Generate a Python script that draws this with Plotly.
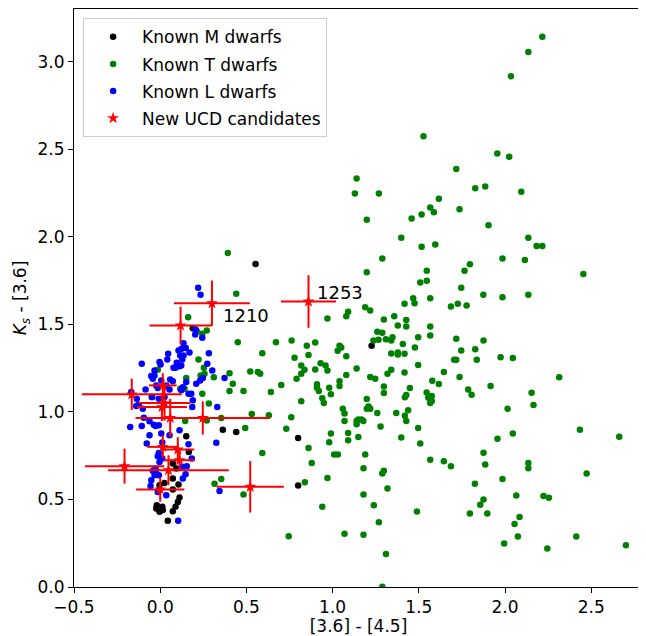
import plotly.graph_objects as go

# Known M dwarfs
m_x = [0.553, 1.226, 0.189, -0.049, 0.363, 0.441, 0.151, 0.80, 0.80, 0.166, 0.073, 0.093, 0.073,
       0.106, 0.025, -0.004, 0.073, 0.112, 0.102, 0.089, 0.073, -0.020, -0.023, 0.012, -0.004,
       0.015, 0.044]
m_y = [1.844, 1.377, 1.478, 1.085, 0.898, 0.885, 0.860, 0.851, 0.579, 0.771, 0.705, 0.676, 0.619,
       0.585, 0.594, 0.581, 0.557, 0.511, 0.486, 0.458, 0.433, 0.467, 0.448, 0.458, 0.429,
       0.439, 0.378]

# Known T dwarfs
t_x = [2.216, 2.135, 2.034, 1.527, 1.955, 2.024, 1.139, 1.717, 1.129, 1.268, 1.827, 1.885, 2.094,
       1.616, 1.198, 1.566, 1.587, 1.516, 1.458, 1.736, 1.904, 1.398, 2.135, 2.183, 2.216, 1.516,
       1.595, 1.288, 1.985, 2.115, 2.454, 1.198, 1.546, 1.796, 1.765, 1.508, 1.546, 1.746, 1.874,
       1.985, 2.135, 1.467, 1.475, 1.566, 1.417, 1.686, 1.726, 1.777, 1.189, 1.218, 1.090, 1.079,
       0.970, 1.357, 1.297, 1.427,
       1.427, 1.378, 1.566, 1.259, 1.288, 1.237, 1.266, 1.309, 1.340, 1.347, 1.496, 1.566, 1.717,
       1.875, 0.850, 0.899, 0.860, 1.040, 1.050, 1.029, 1.079, 1.407, 1.477, 1.340, 1.378, 1.378,
       1.417, 1.746, 1.827, 1.705, 1.717, 1.836, 1.974, 2.045, 0.818, 0.837, 0.818, 0.899, 0.930,
       0.959, 0.970, 1.079, 1.139, 1.218, 1.247, 1.318, 1.340, 1.417, 1.496, 1.645, 1.736, 1.578,
       1.616, 0.909, 0.909, 0.920, 0.980, 0.990, 1.040, 1.040, 1.297, 1.297, 1.448, 1.419, 1.427,
       1.545, 1.555, 1.575, 1.575, 1.566, 1.786, 1.806, 1.916, 2.314, 2.154, 2.165, 2.015, 0.818,
       0.940, 0.949, 1.059, 1.069, 1.069, 1.198, 1.198, 1.218, 1.208, 1.259, 1.139, 1.149, 1.168,
       1.178, 1.139, 1.278, 1.369, 1.419, 1.427, 1.438, 1.149, 0.990, 0.980, 1.090, 1.090, 1.398,
       1.496, 1.508, 1.956, 2.045, 2.434, 2.662, 0.860, 1.009, 1.030, 0.879, 0.839, 0.970, 1.189,
       1.179, 1.288, 1.297, 1.318, 1.179, 1.239, 0.940, 1.268, 1.069, 1.179, 1.309, 1.288, 1.489,
       1.566, 1.645, 1.686, 1.875, 1.885, 1.825, 1.796, 1.856, 1.875, 1.897, 1.985, 2.065, 2.135,
       2.135, 2.223, 2.254, 2.055, 2.084, 2.074, 1.995, 2.245, 2.413, 2.473, 2.701,
       0.392, 0.441, 0.450, 0.671, 0.762, 0.592, 0.779, 0.522, 0.566, 0.580, 0.402, 0.791,
       0.421, 0.402, 0.483, 0.642, 0.702, 0.531, 0.630, 0.760, 0.354, 0.493, 0.731, 0.592, 0.354,
       0.315, 0.483, 0.745,
       0.162, 0.212, 0.244, 0.270, 0.222, 0.253, -0.014, 0.151, 0.141, 0.116, 0.257, 0.234, 0.311,
       0.244, 0.282, 0.145, 0.270]
t_y = [3.141, 3.054, 2.916, 2.574, 2.475, 2.456, 2.332, 2.386, 2.247, 2.247, 2.277, 2.287, 2.256,
       2.217, 2.097, 2.167, 2.139, 2.127, 2.104, 2.156, 2.066, 1.994, 1.994, 1.947, 1.947, 1.943,
       1.956, 1.876, 1.876, 1.867, 1.787, 1.797, 1.806, 1.842, 1.806, 1.738, 1.748, 1.708, 1.668,
       1.654, 1.668, 1.648, 1.620, 1.648, 1.617, 1.601, 1.617, 1.607, 1.597, 1.578, 1.571, 1.546,
       1.533, 1.546, 1.527, 1.525,
       1.487, 1.493, 1.487, 1.457, 1.451, 1.407, 1.411, 1.415, 1.407, 1.426, 1.426, 1.436, 1.417,
       1.407, 1.377, 1.396, 1.324, 1.377, 1.368, 1.349, 1.318, 1.387, 1.368, 1.333, 1.339, 1.328,
       1.332, 1.350, 1.358, 1.297, 1.297, 1.297, 1.312, 1.307, 1.265, 1.240, 1.218, 1.242, 1.278,
       1.265, 1.236, 1.210, 1.248, 1.199, 1.189, 1.218, 1.240, 1.225, 1.267, 1.227, 1.199, 1.178,
       1.159, 1.157, 1.138, 1.119, 1.138, 1.100, 1.175, 1.147, 1.145, 1.107, 1.136, 1.084, 1.096,
       1.111, 1.081, 1.090, 1.062, 1.050, 1.128, 1.098, 1.147, 1.198, 1.109, 1.039, 1.017, 1.060,
       1.078, 1.050, 1.018, 0.990, 0.948, 1.073, 1.018, 1.018, 1.031, 0.993, 0.948, 0.957, 0.957,
       0.948, 0.929, 0.917, 0.993, 0.978, 0.948, 1.009, 0.857, 0.877, 0.826, 0.879, 0.838, 0.853,
       0.908, 0.819, 0.846, 0.877, 0.898, 0.858, 0.794, 0.756, 0.756, 0.708, 0.598, 0.623, 0.756,
       0.678, 0.648, 0.663, 0.562, 0.528, 0.467, 0.458, 0.370, 0.304, 0.298, 0.188, 0.002, 0.431,
       0.727, 0.718, 0.689, 0.767, 0.699, 0.589, 0.420, 0.469, 0.500, 0.420, 0.617, 0.522, 0.708,
       0.678, 0.519, 0.509, 0.359, 0.399, 0.289, 0.249, 0.220, 0.289, 0.648, 0.239,
       1.907, 1.674, 1.398, 1.398, 1.407, 1.335, 1.309, 1.231, 1.227, 1.218, 1.221, 1.189,
       1.161, 1.119, 1.119, 1.113, 1.153, 0.988, 0.980, 0.969, 0.965, 0.908, 0.904, 0.765, 0.617,
       0.589, 0.528, 0.290,
       1.540, 1.460, 1.446, 1.464, 1.299, 1.252, 1.240, 1.193, 1.132, 1.132, 1.218, 1.208, 1.198,
       1.103, 1.047, 0.948, 0.951]

# Known L dwarfs
l_x = [0.220, 0.234, 0.205, 0.203, 0.244, 0.135, 0.148, 0.124, 0.106, 0.170, 0.135, 0.116, 0.128,
       0.046, 0.041, 0.096, 0.077, 0.122, 0.112, 0.089, -0.004, 0.002, -0.107, 0.282, 0.273, 0.302,
       -0.033, -0.043, -0.052, 0.058, 0.073, 0.006, 0.035, -0.023, -0.085, -0.014, 0.054, -0.168,
       -0.136, -0.124, -0.139, -0.101, -0.046, -0.008, 0.025, 0.122, 0.151, 0.131, 0.180, 0.164,
       0.189, 0.209, 0.232, 0.247, 0.373, 0.186, 0.331, -0.095, -0.062, -0.037, -0.027, -0.008,
       -0.107, -0.174, -0.062, 0.006, 0.054, 0.112, -0.078, 0.012, -0.033,
       0.164, -0.008, -0.014, 0.012, -0.004, 0.183, 0.154, 0.128, -0.027, -0.043, -0.023, -0.008,
       -0.033, 0.147, 0.131, -0.052, -0.056, -0.014, 0.035, 0.344, 0.325, 0.104]
l_y = [1.708, 1.668, 1.470, 1.442, 1.423, 1.392, 1.364, 1.360, 1.350, 1.339, 1.322, 1.322, 1.299,
       1.332, 1.299, 1.280, 1.252, 1.265, 1.261, 1.252, 1.284, 1.271, 1.275, 1.335, 1.275, 1.236,
       1.208, 1.189, 1.204, 1.185, 1.174, 1.179, 1.151, 1.151, 1.128, 1.136, 1.128, 1.113,
       1.075, 1.041, 1.033, 1.018, 1.085, 1.075, 1.085, 1.123, 1.170, 1.141, 1.103, 1.103,
       1.066, 1.160, 1.179, 1.193, 1.193, 1.028, 1.028, 0.967, 0.946, 0.927, 0.919, 0.923,
       0.919, 0.913, 0.866, 0.876, 0.866, 0.895, 0.819, 0.825, 1.236,
       0.815, 0.765, 0.746, 0.733, 0.714, 0.733, 0.689, 0.686, 0.676, 0.663, 0.648, 0.638,
       0.638, 0.644, 0.619, 0.610, 0.577, 0.543, 0.524, 0.548, 0.824, 0.378]

# New UCD candidates
c_x = [0.30, 0.86, 0.118, -0.165, 0.015, 0.025, 0.010, 0.058, 0.247, 0.015, 0.102, 0.112, -0.207,
       0.048, 0.000, 0.522]
c_y = [1.62, 1.63, 1.493, 1.100, 1.151, 1.050, 1.027, 0.965, 0.965, 0.800, 0.785, 0.724, 0.690,
       0.667, 0.557, 0.572]
c_xerr = [0.22, 0.16, 0.18, 0.29, 0.08, 0.15, 0.145, 0.05, 0.39, 0.09, 0.095, 0.09, 0.23, 0.35,
          0.14, 0.195]
c_yerr = [0.13, 0.15, 0.107, 0.09, 0.07, 0.10, 0.08, 0.11, 0.095, 0.065, 0.07, 0.057, 0.10, 0.085,
          0.07, 0.147]

labels = ["1210", "1253"]
label_x = [0.35, 0.895]
label_y = [1.55, 1.68]

FONT = "DejaVu Sans"
FS = 17
fig = go.Figure()
fig.add_trace(go.Scatter(x=m_x, y=m_y, mode="markers", name="Known M dwarfs", legendgroup="m",
                         marker=dict(color="black", size=6.5, line=dict(width=0))))
fig.add_trace(go.Scatter(x=t_x, y=t_y, mode="markers", name="Known T dwarfs", legendgroup="t",
                         marker=dict(color="#008000", size=6.5, line=dict(width=0))))
fig.add_trace(go.Scatter(x=l_x, y=l_y, mode="markers", name="Known L dwarfs", legendgroup="l",
                         marker=dict(color="#0000ff", size=6.5, line=dict(width=0))))
fig.add_trace(go.Scatter(x=c_x, y=c_y, mode="markers", name="New UCD candidates", legendgroup="c",
                         marker=dict(color="red", size=9, symbol="star", line=dict(width=0)),
                         error_x=dict(type="data", array=c_xerr, color="red", thickness=2, width=0),
                         error_y=dict(type="data", array=c_yerr, color="red", thickness=2, width=0)))

for t, lx, ly in zip(labels, label_x, label_y):
    fig.add_annotation(x=lx, y=ly, text=t, showarrow=False, xanchor="left", yanchor="middle",
                       font=dict(family=FONT, size=18, color="black"))

axis_common = dict(showline=True, linecolor="black", linewidth=1, mirror=True, ticks="outside",
                   ticklen=5, tickwidth=1, tickcolor="black", showgrid=False, zeroline=False,
                   automargin=False,
                   tickfont=dict(family=FONT, size=FS, color="black"))
fig.update_xaxes(range=[-0.5, 2.8], tickvals=[-0.5, 0, 0.5, 1.0, 1.5, 2.0, 2.5], tickformat=".1f",
                 title=dict(text="[3.6] - [4.5]", font=dict(family=FONT, size=FS, color="black"),
                            standoff=2), **axis_common)
fig.update_yaxes(range=[0, 3.3], tickvals=[0, 0.5, 1.0, 1.5, 2.0, 2.5, 3.0], tickformat=".1f",
                 title=dict(text="<i>K</i><sub><i>s</i></sub> - [3.6]",
                            font=dict(family=FONT, size=FS, color="black"), standoff=6),
                 **axis_common)
# the page body adds an 8px offset, so the figure is 8px smaller with shifted margins
fig.update_layout(width=638, height=628, margin=dict(l=66, r=3, t=1, b=49),
                  plot_bgcolor="white", paper_bgcolor="white",
                  font=dict(family=FONT, size=FS, color="black"),
                  legend=dict(x=0.016, y=0.984, xanchor="left", yanchor="top",
                              bgcolor="rgba(255,255,255,0.8)", bordercolor="#cccccc", borderwidth=1,
                              font=dict(family=FONT, size=FS), tracegroupgap=2, itemwidth=48))
fig.write_html("out.html")
